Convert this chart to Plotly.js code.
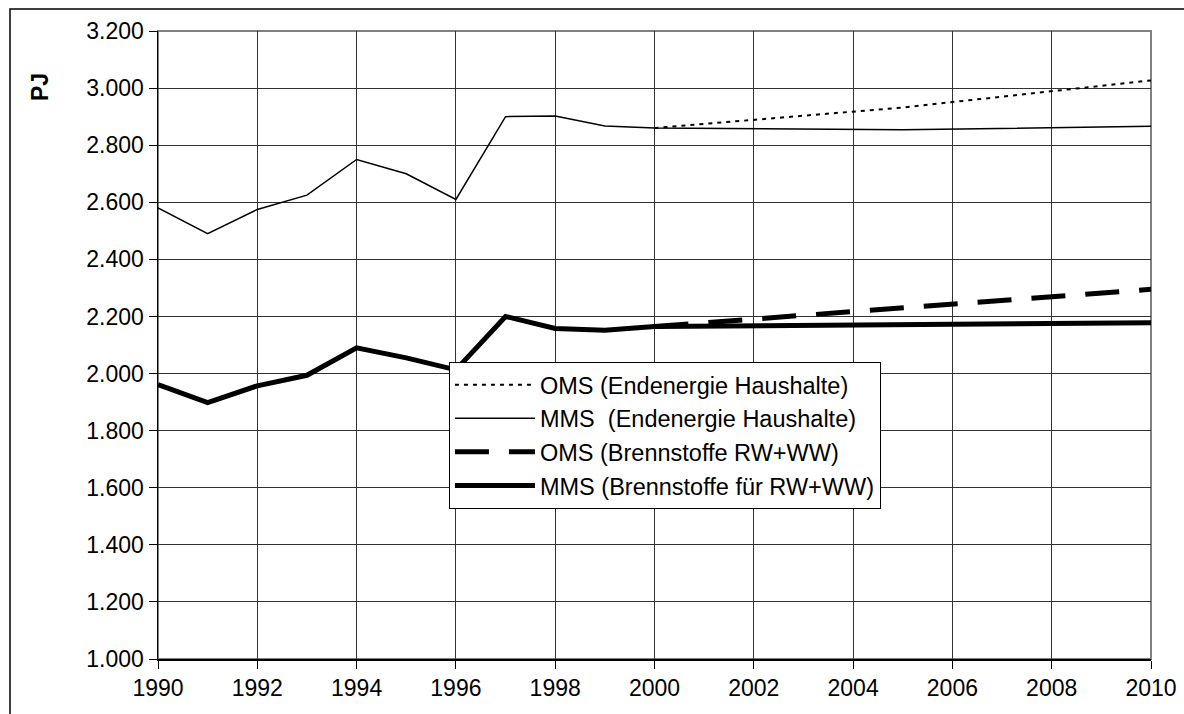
<!DOCTYPE html>
<html>
<head>
<meta charset="utf-8">
<script src="https://cdn.plot.ly/plotly-3.0.1.min.js"></script>
<style>html,body{margin:0;padding:0;background:#fff;}#chart{width:1184px;height:714px;}</style>
</head>
<body>
<div id="chart"></div>
<script>
// Historical years and projection years
const yearsHist = [1990,1991,1992,1993,1994,1995,1996,1997,1998,1999,2000,2005,2010];
const yearsProj = [2000,2005,2010];

// Endenergie Haushalte (PJ)
const mmsHaushalte = [2580,2490,2575,2625,2750,2700,2610,2900,2902,2867,2860,2854,2866];
const omsHaushalte = [2860,2932,3027];

// Brennstoffe für RW+WW (PJ)
const mmsBrennstoffe = [1961,1898,1957,1994,2090,2055,2013,2200,2158,2152,2165,2172,2178];
const omsBrennstoffe = [2165,2232,2295];

const names = [
  "OMS (Endenergie Haushalte)",
  "MMS \u00a0(Endenergie Haushalte)",
  "OMS (Brennstoffe RW+WW)",
  "MMS (Brennstoffe für RW+WW)"
];

const xTicks = [1990,1992,1994,1996,1998,2000,2002,2004,2006,2008,2010];
const yTicks = [1000,1200,1400,1600,1800,2000,2200,2400,2600,2800,3000,3200];

const font = "Liberation Sans, Arial, sans-serif";

const traces = [
  {x: yearsProj, y: omsHaushalte, name: names[0], legendgroup: "a", mode: "lines",
   line: {color: "#000", width: 2, dash: "4px,5px"}},
  {x: yearsHist, y: mmsHaushalte, name: names[1], legendgroup: "b", mode: "lines",
   line: {color: "#000", width: 1.5}},
  {x: yearsProj, y: omsBrennstoffe, name: names[2], legendgroup: "c", mode: "lines",
   line: {color: "#000", width: 5, dash: "34px,20px"}},
  {x: yearsHist, y: mmsBrennstoffe, name: names[3], legendgroup: "d", mode: "lines",
   line: {color: "#000", width: 5}}
];

const layout = {
  width: 1184, height: 714,
  margin: {l: 158, r: 33, t: 31, b: 55},
  paper_bgcolor: "#fff", plot_bgcolor: "#fff",
  separators: ",.",
  hovermode: false,
  font: {family: font, size: 23, color: "#000"},
  xaxis: {
    range: [1990, 2010], tickvals: xTicks, tickformat: "d",
    showgrid: true, gridcolor: "#333", gridwidth: 1,
    showline: true, linecolor: "#000", linewidth: 1.5,
    ticks: "outside", ticklen: 8, tickcolor: "#000",
    zeroline: false, tickfont: {family: font, size: 23}
  },
  yaxis: {
    range: [1000, 3200], tickvals: yTicks, tickformat: ",d",
    showgrid: true, gridcolor: "#333", gridwidth: 1,
    showline: true, linecolor: "#000", linewidth: 1.5,
    ticks: "outside", ticklen: 8, tickcolor: "#000",
    zeroline: false, tickfont: {family: font, size: 23}
  },
  showlegend: true,
  legend: {
    x: 0.293, y: 0.473, xanchor: "left", yanchor: "top",
    bgcolor: "#fff", bordercolor: "#000", borderwidth: 1,
    font: {family: font, size: 23.5, color: "#000"},
    itemwidth: 80, tracegroupgap: 9,
    traceorder: "normal"
  },
  shapes: [
    {type: "rect", xref: "paper", yref: "paper", x0: 0, x1: 1, y0: 0, y1: 1,
     line: {color: "#808080", width: 2}, layer: "below"},
    {type: "rect", xref: "paper", yref: "paper",
     x0: -148/993, x1: 1.06, y0: -0.2, y1: (659-9)/628,
     line: {color: "#000", width: 1.5}, fillcolor: "rgba(0,0,0,0)"}
  ],
  annotations: [
    {text: "<b>PJ</b>", xref: "paper", yref: "paper", x: -118/993, y: (659-87)/628,
     xanchor: "center", yanchor: "middle", textangle: -90, showarrow: false,
     font: {family: font, size: 23, color: "#000"}}
  ]
};

Plotly.newPlot("chart", traces, layout, {staticPlot: true, displayModeBar: false});
</script>
</body>
</html>
